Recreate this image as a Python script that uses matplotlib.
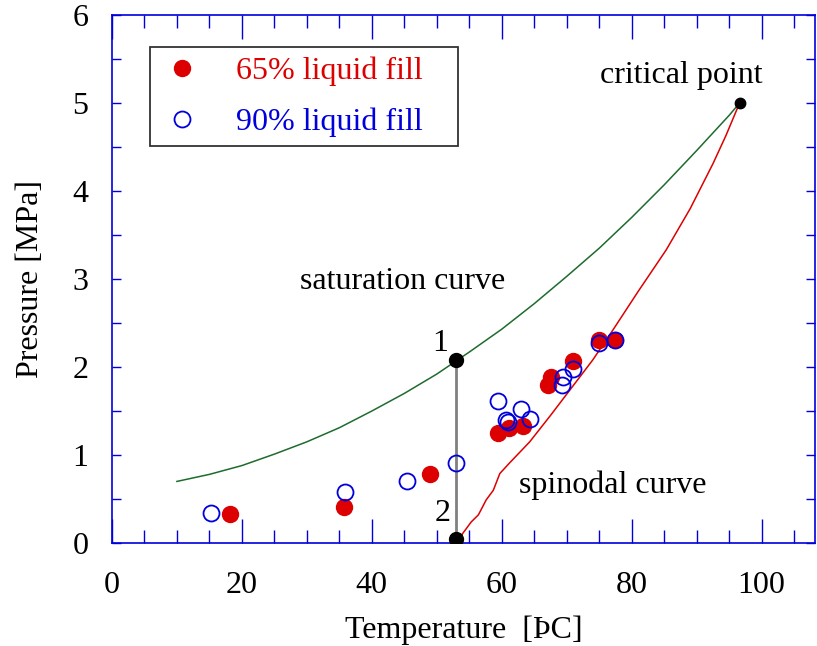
import matplotlib
matplotlib.use("Agg")
import matplotlib.pyplot as plt
from matplotlib.ticker import MultipleLocator

plt.rcParams['font.family'] = ['Liberation Serif', 'DejaVu Serif']

# Data
fill65_T = [18.1, 35.7, 49.0, 59.4, 61.1, 63.2, 67.1, 67.6, 71.0, 75.0, 77.5]
fill65_P = [0.33, 0.41, 0.78, 1.25, 1.31, 1.33, 1.80, 1.89, 2.07, 2.31, 2.31]
fill90_T = [15.3, 35.8, 45.4, 53.0, 59.4, 60.6, 60.9, 63.0, 64.4, 69.3, 69.4, 71.0, 75.0, 77.5]
fill90_P = [0.34, 0.58, 0.70, 0.91, 1.61, 1.40, 1.37, 1.52, 1.41, 1.80, 1.89, 1.98, 2.27, 2.31]

sat_T = [10, 15, 20, 25, 30, 35, 40, 45, 50, 55, 60, 65, 70, 75, 80, 85, 90, 95, 96.6]
sat_P = [0.70, 0.78, 0.88, 1.01, 1.15, 1.31, 1.50, 1.70, 1.92, 2.17, 2.43, 2.72, 3.03,
         3.35, 3.70, 4.07, 4.46, 4.86, 5.00]

spin_T = [53.5, 54.0, 55.3, 56.4, 57.6, 58.7, 59.7, 61.2, 64.3, 67.5, 70.7, 74.0, 77.1,
          81.0, 85.3, 89.0, 92.5, 94.5, 96.6]
spin_P = [0.05, 0.11, 0.24, 0.32, 0.49, 0.60, 0.79, 0.91, 1.15, 1.45, 1.76, 2.08, 2.42,
          2.86, 3.33, 3.80, 4.31, 4.63, 5.00]

state_T = [53.0, 53.0]
state_P = [2.08, 0.05]
crit_T = [96.6]
crit_P = [5.0]

xticks = [0, 20, 40, 60, 80, 100]
yticks = [0, 1, 2, 3, 4, 5, 6]

fig = plt.figure(figsize=(8.17, 6.46), dpi=100)
ax = fig.add_axes([0.137, 0.1594, 0.8605, 0.8174])

red = '#dd0000'
blue = '#0000dd'
green = '#1e6b2e'

ax.plot(sat_T, sat_P, color=green, lw=1.1, zorder=2)
ax.plot(spin_T, spin_P, color=red, lw=1.1, zorder=2)
ax.plot(state_T, state_P, color='#808080', lw=2, zorder=3)
ax.plot(state_T, state_P, 'o', color='black', ms=10, zorder=5)
ax.plot(crit_T, crit_P, 'o', color='black', ms=7.5, zorder=5)

h1, = ax.plot(fill65_T, fill65_P, 'o', color=red, ms=11.5, mec=red, zorder=4,
              label='65% liquid fill', linestyle='none')
h2, = ax.plot(fill90_T, fill90_P, 'o', mfc='none', mec=blue, mew=1.3, ms=11.5, zorder=4,
              label='90% liquid fill', linestyle='none')

fs = 23
ax.text(44.8, 2.97, 'saturation curve', fontsize=fs, ha='center', va='center')
ax.text(77.1, 0.66, 'spinodal curve', fontsize=fs, ha='center', va='center')
ax.text(87.7, 5.31, 'critical point', fontsize=fs, ha='center', va='center')
ax.text(50.5, 2.27, '1', fontsize=fs, ha='center', va='center')
ax.text(50.9, 0.34, '2', fontsize=fs, ha='center', va='center')

ax.set_xlim(0, 108.2)
ax.set_ylim(0, 6)
ax.set_xticks(xticks)
ax.set_yticks(yticks)
ax.xaxis.set_minor_locator(MultipleLocator(5))
ax.yaxis.set_minor_locator(MultipleLocator(0.5))
ax.tick_params(which='both', direction='in', top=True, right=True, color=blue,
               labelsize=fs)
ax.tick_params(axis='x', which='both', pad=20)
ax.tick_params(axis='y', which='both', pad=17)
ax.tick_params(axis='x', which='major', length=17, width=1)
ax.tick_params(axis='x', which='minor', length=9.5, width=1)
ax.tick_params(axis='y', which='both', length=6.5, width=1)
for s in ax.spines.values():
    s.set_color(blue)
    s.set_linewidth(1.2)

ax.set_xlabel('Temperature  [ÞC]', fontsize=fs, labelpad=11)
ax.set_ylabel('Pressure [MPa]', fontsize=fs, labelpad=20)

leg = ax.legend(handles=[h1, h2], loc='upper left',
                bbox_to_anchor=(0.054, 0.748, 0.438, 0.191), mode='expand',
                borderaxespad=0, fontsize=fs, frameon=True, fancybox=False,
                edgecolor='black', handletextpad=1.0, borderpad=0.3,
                labelspacing=0.66, handlelength=1.4)
leg.get_frame().set_linewidth(1.3)
for t, c in zip(leg.get_texts(), [red, blue]):
    t.set_color(c)

fig.savefig('out.png', dpi=100)
